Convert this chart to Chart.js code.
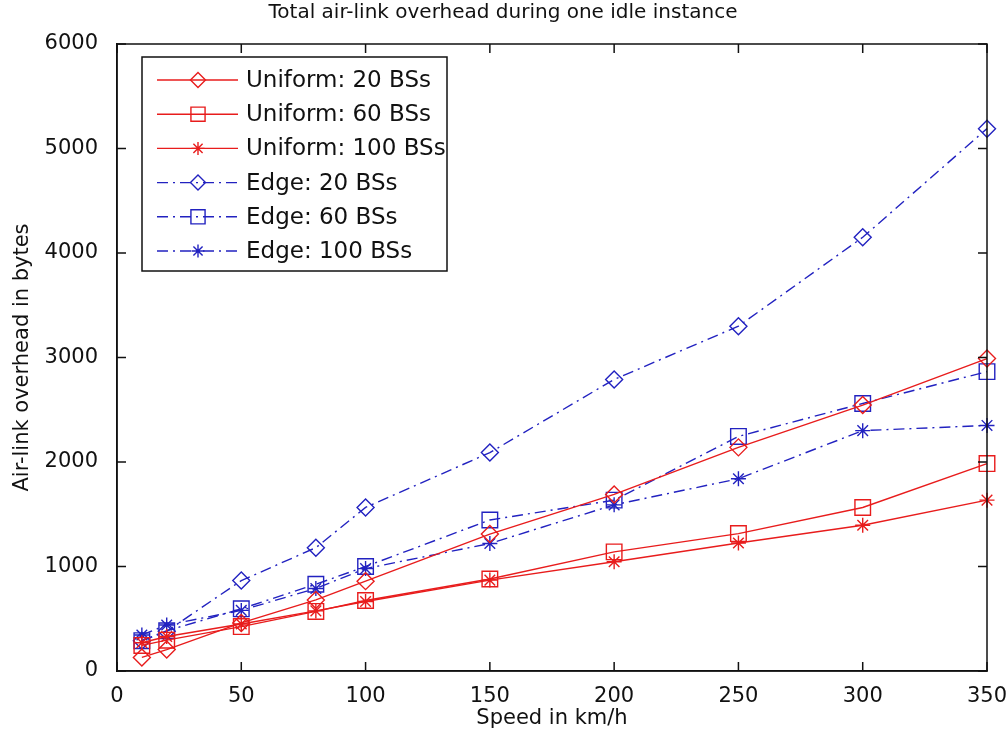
<!DOCTYPE html>
<html>
<head>
<meta charset="utf-8">
<title>Total air-link overhead during one idle instance</title>
<script src="https://cdn.jsdelivr.net/npm/chart.js@4/dist/chart.umd.min.js"></script>
<style>
  html, body { margin: 0; padding: 0; background: #fff; }
  #wrap { width: 1006px; height: 736px; }
</style>
</head>
<body>
<div id="wrap"><canvas id="overheadChart" width="1006" height="736"></canvas></div>
<script>
// values (bytes vs km/h)
const speeds = [10, 20, 50, 80, 100, 150, 200, 250, 300, 350];

const uniform20  = [130, 205, 460, 680, 860, 1310, 1690, 2140, 2545, 2990];
const uniform60  = [245, 295, 425, 570, 675, 880, 1140, 1315, 1565, 1985];
const uniform100 = [270, 330, 450, 575, 665, 870, 1045, 1225, 1395, 1635];
const edge20     = [290, 380, 865, 1180, 1565, 2090, 2790, 3300, 4150, 5190];
const edge60     = [290, 385, 595, 830, 1000, 1445, 1635, 2245, 2560, 2865];
const edge100    = [345, 440, 580, 790, 980, 1220, 1590, 1840, 2300, 2350];

const seriesLabels = ['Uniform: 20 BSs', 'Uniform: 60 BSs', 'Uniform: 100 BSs',
                      'Edge: 20 BSs', 'Edge: 60 BSs', 'Edge: 100 BSs'];

const RED = '#e81c1c';
const BLUE = '#2222c0';
const FONT = "'DejaVu Sans', 'Liberation Sans', sans-serif";

function pts(arr) {
  return arr.map((v, i) => ({ x: speeds[i], y: v }));
}

function series(label, values, color, style, radius, dashed) {
  return {
    label,
    data: pts(values),
    borderColor: color,
    backgroundColor: 'rgba(0,0,0,0)',
    borderWidth: 1.4,
    borderDash: dashed ? [11, 5, 2, 5] : [],
    pointStyle: style,
    pointRadius: radius,
    pointBorderColor: color,
    pointBackgroundColor: 'rgba(0,0,0,0)',
    pointBorderWidth: 1.4,
    tension: 0,
    clip: false,
  };
}

// MATLAB style: box around the axes, ticks pointing inward on all four sides
const boxTicks = {
  id: 'boxTicks',
  afterDraw(chart) {
    const { ctx, chartArea: a, scales } = chart;
    const len = 9;
    ctx.save();
    ctx.strokeStyle = '#111';
    ctx.lineWidth = 1.5;
    ctx.strokeRect(a.left, a.top, a.right - a.left, a.bottom - a.top);
    ctx.beginPath();
    scales.x.ticks.forEach(t => {
      const x = scales.x.getPixelForValue(t.value);
      ctx.moveTo(x, a.bottom); ctx.lineTo(x, a.bottom - len);
      ctx.moveTo(x, a.top);    ctx.lineTo(x, a.top + len);
    });
    scales.y.ticks.forEach(t => {
      const y = scales.y.getPixelForValue(t.value);
      ctx.moveTo(a.left, y);  ctx.lineTo(a.left + len, y);
      ctx.moveTo(a.right, y); ctx.lineTo(a.right - len, y);
    });
    ctx.stroke();
    ctx.restore();
  }
};

// legend box in the upper left of the axes, line sample + marker + text
const matlabLegend = {
  id: 'matlabLegend',
  afterDraw(chart) {
    const { ctx, chartArea: a } = chart;
    const sets = chart.data.datasets;
    const bx = a.left + 25, by = a.top + 13, bw = 305, bh = 214;
    const rowH = 34.2;
    ctx.save();
    ctx.fillStyle = '#fff';
    ctx.fillRect(bx, by, bw, bh);
    ctx.strokeStyle = '#111';
    ctx.lineWidth = 1.5;
    ctx.strokeRect(bx, by, bw, bh);
    sets.forEach((ds, i) => {
      const y = by + 23 + i * rowH;
      const x0 = bx + 15, x1 = bx + 96, xm = bx + 56;
      ctx.strokeStyle = ds.borderColor;
      ctx.lineWidth = ds.borderWidth;
      ctx.setLineDash(ds.borderDash);
      ctx.beginPath();
      ctx.moveTo(x0, y); ctx.lineTo(x1, y);
      ctx.stroke();
      ctx.setLineDash([]);
      ctx.fillStyle = 'rgba(0,0,0,0)';
      ctx.strokeStyle = ds.pointBorderColor;
      ctx.lineWidth = ds.pointBorderWidth;
      Chart.helpers.drawPoint(ctx, {
        pointStyle: ds.pointStyle,
        radius: ds.pointRadius - 1,
        rotation: 0,
        borderWidth: ds.pointBorderWidth
      }, xm, y);
      ctx.fillStyle = '#111';
      ctx.font = '23px ' + FONT;
      ctx.textBaseline = 'middle';
      ctx.textAlign = 'left';
      ctx.fillText(ds.label, bx + 104, y + 1);
    });
    ctx.restore();
  }
};

const canvas = document.getElementById('overheadChart');

new Chart(canvas, {
  type: 'line',
  data: {
    datasets: [
      series(seriesLabels[0], uniform20,  RED,  'rectRot', 8.5, false),
      series(seriesLabels[1], uniform60,  RED,  'rect',    11,  false),
      series(seriesLabels[2], uniform100, RED,  'star',    7.5, false),
      series(seriesLabels[3], edge20,     BLUE, 'rectRot', 8.5, true),
      series(seriesLabels[4], edge60,     BLUE, 'rect',    11,  true),
      series(seriesLabels[5], edge100,    BLUE, 'star',    7.5, true),
    ]
  },
  options: {
    responsive: false,
    animation: false,
    layout: { padding: 0 },
    plugins: {
      legend: { display: false },
      tooltip: { enabled: false },
      title: {
        display: true,
        text: 'Total air-link overhead during one idle instance',
        color: '#111',
        font: { family: FONT, size: 20, weight: 'normal' },
        padding: { top: 1, bottom: 19 }
      }
    },
    scales: {
      x: {
        type: 'linear',
        min: 0,
        max: 350,
        grid: { display: false },
        border: { display: true, color: '#111', width: 1.5 },
        ticks: {
          stepSize: 50,
          color: '#111',
          padding: 5,
          maxRotation: 0,
          font: { family: FONT, size: 21 },
          callback: v => String(v)
        },
        title: {
          display: true,
          text: 'Speed in km/h',
          color: '#111',
          font: { family: FONT, size: 21 },
          padding: { top: 4, bottom: 5 }
        },
        afterFit: s => {
          s.height = 65;
          s.paddingLeft = 0;
          s.paddingRight = 19;
        }
      },
      y: {
        min: 0,
        max: 6000,
        grid: { display: false },
        border: { display: true, color: '#111', width: 1.5 },
        ticks: {
          stepSize: 1000,
          color: '#111',
          padding: 11,
          font: { family: FONT, size: 21 },
          callback: v => String(v)
        },
        title: {
          display: true,
          text: 'Air-link overhead in bytes',
          color: '#111',
          font: { family: FONT, size: 21 },
          padding: { top: 10, bottom: 4 }
        },
        afterFit: s => {
          s.width = 117;
          s.paddingTop = 0;
          s.paddingBottom = 0;
        }
      }
    }
  },
  plugins: [boxTicks, matlabLegend]
});
</script>
</body>
</html>
